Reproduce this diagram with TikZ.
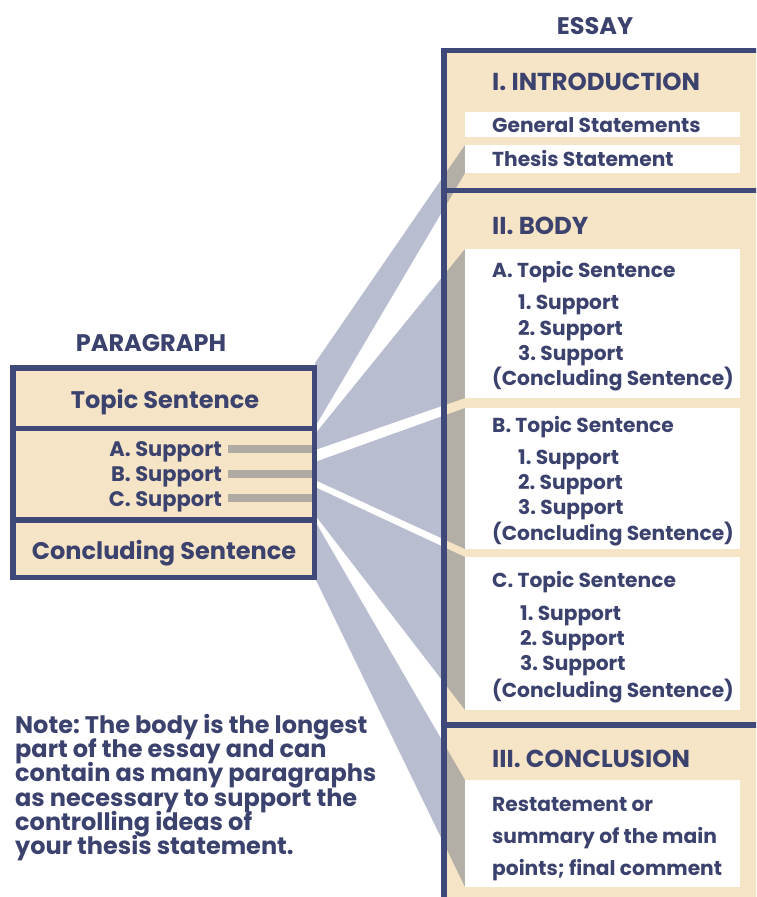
\documentclass[tikz,border=0pt]{standalone}
\usepackage{fontspec}
\setmainfont{Poppins}
\frenchspacing
\definecolor{ink}{RGB}{60,66,110}
\definecolor{frame}{RGB}{62,73,122}
\definecolor{beige}{RGB}{246,228,198}
\definecolor{fanc}{RGB}{185,189,208}
\definecolor{bevel}{RGB}{180,175,166}
\definecolor{barc}{RGB}{175,171,163}
\newcommand\drawfans[1]{%
  \fill[#1] (f1a) -- (f1b) -- (f1c) -- (f1d) -- cycle;
  \fill[#1] (f2a) -- (f2b) -- (f2c) -- (f2d) -- cycle;
  \fill[#1] (f3a) -- (f3b) -- (f3c) -- (f3d) -- cycle;
  \fill[#1] (f4a) -- (f4b) -- (f4c) -- (f4d) -- cycle;
  \fill[#1] (f5a) -- (f5b) -- (f5c) -- (f5d) -- cycle;}
\begin{document}
\begin{tikzpicture}[x=1pt,y=-1pt,
  every node/.style={inner sep=0pt,text=ink},
  frameline/.style={draw=frame,line width=5.5pt},
  title/.style={font=\fontsize{24}{28}\selectfont\bfseries,anchor=base},
  head/.style={font=\fontsize{24.5}{28}\selectfont\bfseries,anchor=base west},
  btxt/.style={font=\fontsize{20.2}{24}\selectfont\bfseries,anchor=base west},
  ptxt/.style={font=\fontsize{24}{28}\selectfont\bfseries,anchor=base},
  stxt/.style={font=\fontsize{21}{25}\selectfont\bfseries,anchor=base east},
  ntxt/.style={font=\fontsize{24}{28}\selectfont\bfseries,anchor=base west},
  wbox/.style={fill=white},
  barbox/.style={fill=barc}]
\clip (0,0) rectangle (756,897);
\fill[white] (0,0) rectangle (756,897);
% essay background
\fill[beige] (444,50) rectangle (760,900);
% fan end points
\coordinate (f1a) at (315,363); \coordinate (f1b) at (465,145);
\coordinate (f1c) at (465,173); \coordinate (f1d) at (315,427);
\coordinate (f2a) at (315,434); \coordinate (f2b) at (465,249);
\coordinate (f2c) at (465,398); \coordinate (f2d) at (315,450);
\coordinate (f3a) at (315,462); \coordinate (f3b) at (465,408);
\coordinate (f3c) at (465,549); \coordinate (f3d) at (315,480);
\coordinate (f4a) at (315,487); \coordinate (f4b) at (465,557);
\coordinate (f4c) at (465,710); \coordinate (f4d) at (315,515);
\coordinate (f5a) at (315,521); \coordinate (f5b) at (465,780);
\coordinate (f5c) at (465,887); \coordinate (f5d) at (315,578);
\begin{scope}
  \clip (0,0) rectangle (444,897);
  \drawfans{fanc}
\end{scope}
\begin{scope}
  \clip (444,0) rectangle (470,897);
  \drawfans{bevel}
\end{scope}
% white boxes in essay
\fill[wbox] (465,112) rectangle (740,137);
\fill[wbox] (465,145) rectangle (740,173);
\fill[wbox] (465,249) rectangle (740,398);
\fill[wbox] (465,408) rectangle (740,549);
\fill[wbox] (465,557) rectangle (740,710);
\fill[wbox] (465,780) rectangle (740,887);
% essay frame
\draw[frameline] (441.25,50.5) -- (760,50.5);
\draw[frameline] (444,47.75) -- (444,900);
\draw[frameline] (444,190.5) -- (760,190.5);
\draw[frameline] (444,725) -- (760,725);
% paragraph box
\fill[beige] (12.75,367.75) rectangle (314.25,577.25);
\draw[frameline] (12.75,367.75) rectangle (314.25,577.25);
\draw[frameline] (12.75,428.5) -- (314.25,428.5);
\draw[frameline] (12.75,520) -- (314.25,520);
\fill[barbox] (228,445) rectangle (312,453);
\fill[barbox] (228,470) rectangle (312,478);
\fill[barbox] (228,494) rectangle (312,502);
% paragraph texts
\node[title] (ptitle) at (151,351) {PARAGRAPH};
\node[ptxt] (pts) at (165,408) {Topic Sentence};
\node[stxt] (psa) at (222,456) {A. Support};
\node[stxt] (psb) at (222,481) {B. Support};
\node[stxt] (psc) at (222,506) {C. Support};
\node[ptxt] (pcs) at (164,559) {Concluding Sentence};
% essay texts
\node[title] (etitle) at (595,34) {ESSAY};
\node[head] (eintro) at (492,90) {I. INTRODUCTION};
\node[btxt] (egen) at (492,132) {General Statements};
\node[btxt] (ethe) at (492,166) {Thesis Statement};
\node[head] (ebody) at (492,234) {II. BODY};
\node[btxt] (eat) at (492,277) {A. Topic Sentence};
\node[btxt] (ea1) at (518,309) {1. Support};
\node[btxt] (ea2) at (518,335) {2. Support};
\node[btxt] (ea3) at (518,360) {3. Support};
\node[btxt] (eac) at (492,385) {(Concluding Sentence)};
\node[btxt] (ebt) at (492,432) {B. Topic Sentence};
\node[btxt] (eb1) at (518,464) {1. Support};
\node[btxt] (eb2) at (518,489) {2. Support};
\node[btxt] (eb3) at (518,514) {3. Support};
\node[btxt] (ebc) at (492,540) {(Concluding Sentence)};
\node[btxt] (ect) at (492,587) {C. Topic Sentence};
\node[btxt] (ec1) at (520,620) {1. Support};
\node[btxt] (ec2) at (520,645) {2. Support};
\node[btxt] (ec3) at (520,670) {3. Support};
\node[btxt] (ecc) at (492,697) {(Concluding Sentence)};
\node[head] (econ) at (492,767) {III. CONCLUSION};
\node[btxt] (er1) at (492,811) {Restatement or};
\node[btxt] (er2) at (492,843) {summary of the main};
\node[btxt] (er3) at (492,875) {points; final comment};
% note
\node[ntxt] (n1) at (15,733) {Note: The body is the longest};
\node[ntxt] (n2) at (15,757) {part of the essay and can};
\node[ntxt] (n3) at (15,781) {contain as many paragraphs};
\node[ntxt] (n4) at (15,806) {as necessary to support the};
\node[ntxt] (n5) at (15,830) {controlling ideas of};
\node[ntxt] (n6) at (15,854) {your thesis statement.};
\end{tikzpicture}
\end{document}
